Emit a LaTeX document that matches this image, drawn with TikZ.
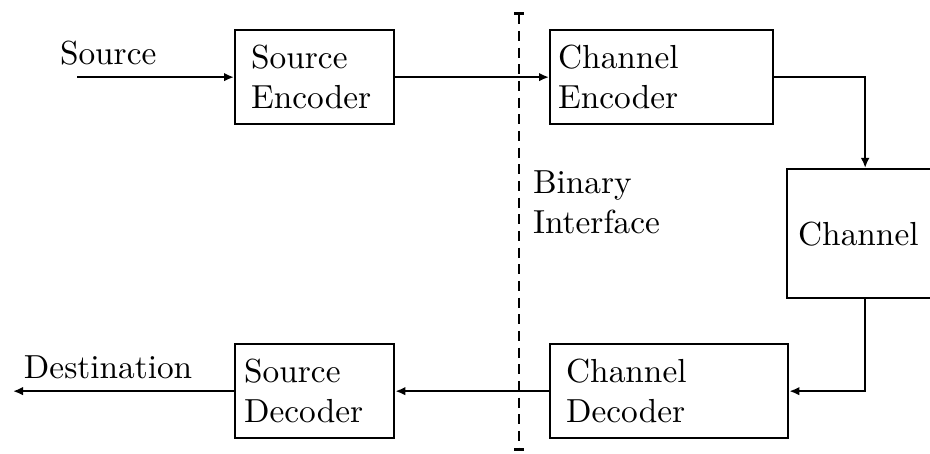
\documentclass[tikz,border=0pt]{standalone}
\usepackage{tikz}
\usetikzlibrary{positioning}
\usetikzlibrary{arrows.meta}
\tikzset{edge/.style = {->, > = {Latex[length=3pt,width=2.6pt]}}}

\begin{document}
\begin{tikzpicture}[x=0.3pt,y=-0.3pt,semithick,
    block/.style={draw,line width=0.7pt,anchor=north west,align=left,minimum height=28.2pt,inner ysep=0pt},
    label text/.style={inner sep=0pt,anchor=base west}]
    \useasboundingbox (0,0) rectangle (930,454);
    \clip (0,0) rectangle (930,454);

    % blocks
    \node[block,text width=38.1pt,inner xsep=4.8pt] (srcenc) at (234,29) {Source\\Encoder};
    \node[block,text width=62.1pt,inner xsep=2.4pt] (chenc) at (549,29) {Channel\\Encoder};
    \node[block,text width=40.2pt,inner xsep=3.3pt,minimum height=38.7pt] (chan) at (786,168) {Channel};
    \node[block,text width=61.8pt,inner xsep=4.8pt] (chdec) at (549,343) {Channel\\Decoder};
    \node[block,text width=42.3pt,inner xsep=2.7pt] (srcdec) at (234,343) {Source\\Decoder};

    % texts
    \node[label text] (srclabel) at (59,65) {Source};
    \node[label text] (dstlabel) at (23,379) {Destination};
    \node[inner sep=0pt,anchor=north west,align=left] (iface) at (532,170) {Binary\\Interface};

    \coordinate (inx) at (77,0);
    \coordinate (outx) at (13,0);
    \coordinate (srcin) at (srcenc.west -| inx);
    \coordinate (dstout) at (srcdec.west -| outx);
    \coordinate (ifacetop) at (519,12);
    \coordinate (ifacebot) at (519,451);

    % binary interface
    \draw[dash pattern=on 3pt off 2pt,{Bar[width=3pt,line width=0.9pt]}-{Bar[width=3pt,line width=0.9pt]}] (ifacetop) -- (ifacebot);

    % connectors
    \draw[edge] (srcin) -- (srcenc.west);
    \draw[edge] (srcenc.east) -- (chenc.west);
    \draw[edge] (chenc.east) -| (chan.north);
    \draw[edge] (chan.south) |- (chdec.east);
    \draw[edge] (chdec.west) -- (srcdec.east);
    \draw[edge] (srcdec.west) -- (dstout);
\end{tikzpicture}
\end{document}
